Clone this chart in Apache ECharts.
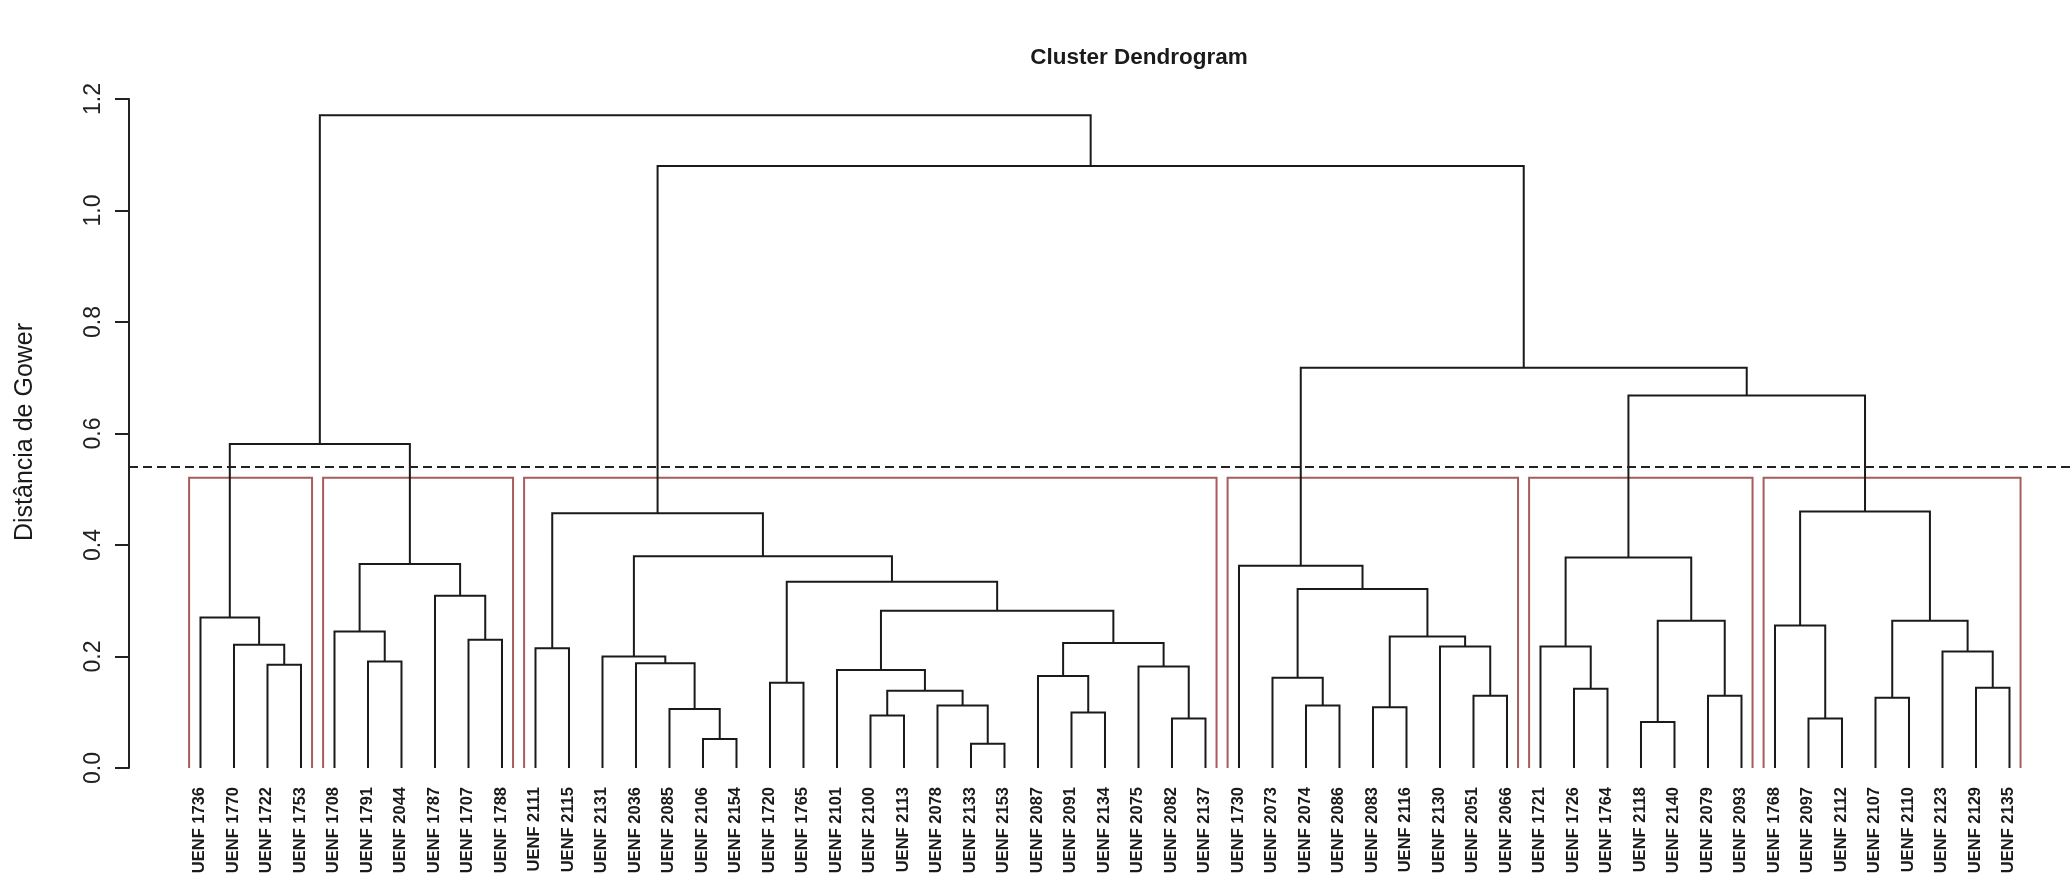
<!DOCTYPE html>
<html><head><meta charset="utf-8">
<script src="https://cdn.jsdelivr.net/npm/echarts@6/dist/echarts.min.js"></script>
<style>html,body{margin:0;padding:0;background:#fff}#c{width:2072px;height:880px}</style>
</head><body><div id="c"></div>
<script>
// ---- Data (leaf order as drawn, left to right) ----
const leafLabels = [
  'UENF 1736','UENF 1770','UENF 1722','UENF 1753',
  'UENF 1708','UENF 1791','UENF 2044','UENF 1787','UENF 1707','UENF 1788',
  'UENF 2111','UENF 2115','UENF 2131','UENF 2036','UENF 2085','UENF 2106','UENF 2154',
  'UENF 1720','UENF 1765','UENF 2101','UENF 2100','UENF 2113','UENF 2078','UENF 2133',
  'UENF 2153','UENF 2087','UENF 2091','UENF 2134','UENF 2075','UENF 2082','UENF 2137',
  'UENF 1730','UENF 2073','UENF 2074','UENF 2086','UENF 2083','UENF 2116','UENF 2130',
  'UENF 2051','UENF 2066',
  'UENF 1721','UENF 1726','UENF 1764','UENF 2118','UENF 2140','UENF 2079','UENF 2093',
  'UENF 1768','UENF 2097','UENF 2112','UENF 2107','UENF 2110','UENF 2123','UENF 2129','UENF 2135'
];
// hclust-style merge table: negative = leaf position (1-based), positive = earlier merge row (1-based)
const mergeLeft  = [-24,-16,-44,-30,-49,-21,-27,-15,-36,-23,-34,-51,-39,-46, 6,-42,-54,-18,-33,-26,
                    -20,-29, -3,-14, -6,-13,-53,-11,-41,-38, -2, 20, -9,  9, -5,-48,  3, 12, -1, 21,
                     -8, 19, 18,-32, 35, 29, 26, 28, 36, 39, 46, 44, 48, 50];
const mergeRight = [-25,-17,-45,-31,-50,-22,-28,  2,-37,  1,-35,-52,-40,-47, 10,-43,-55,-19, 11,  7,
                     15,  4, -4,  8, -7, 24, 17,-12, 16, 13, 23, 22,-10, 30, 25,  5, 14, 27, 31, 32,
                     33, 34, 40, 42, 41, 37, 43, 47, 38, 45, 49, 51, 52, 53];
const mergeHeight = [0.0435,0.052,0.0824,0.089,0.089,0.094,0.0997,0.106,0.109,0.112,
                     0.112,0.126,0.1296,0.1296,0.1385,0.142,0.144,0.153,0.162,0.165,
                     0.176,0.182,0.185,0.188,0.191,0.200,0.209,0.215,0.218,0.218,
                     0.221,0.224,0.230,0.236,0.245,0.2556,0.264,0.264,0.270,0.282,
                     0.309,0.321,0.334,0.3626,0.366,0.3775,0.380,0.457,0.460,0.581,
                     0.668,0.718,1.080,1.171];
const clusterSizes = [4, 6, 21, 9, 7, 8];   // k = 6 groups (rect.hclust)
const cutLine = 0.5405;                      // dashed reference line
const yTicks = [0, 0.2, 0.4, 0.6, 0.8, 1.0, 1.2];

// ---- Build segments through the tree ----
const nodeX = [], nodeH = [];
const cx = c => c < 0 ? -c : nodeX[c - 1];
const ch = c => c < 0 ? 0 : nodeH[c - 1];
const segData = [];
for (let i = 0; i < mergeHeight.length; i++) {
  const l = mergeLeft[i], r = mergeRight[i], h = mergeHeight[i];
  const xl = cx(l), xr = cx(r);
  nodeX.push((xl + xr) / 2); nodeH.push(h);
  segData.push([xl, ch(l), xl, h, xr, h, xr, ch(r)]);
}
const sortedH = mergeHeight.slice().sort((a, b) => b - a);
const k = clusterSizes.length;
const rectTop = (sortedH[k - 2] + sortedH[k - 1]) / 2;
const rectData = [];
let acc = 0;
clusterSizes.forEach(s => { rectData.push([acc + 0.66, acc + s + 0.33, rectTop]); acc += s; });
const leafData = leafLabels.map((name, i) => [i + 1, 0, name]);

const chart = echarts.init(document.getElementById('c'));
const FONT = 'Liberation Sans, Arial, Helvetica, sans-serif';
chart.setOption({
  animation: false,
  backgroundColor: '#ffffff',
  grid: { left: 129, right: 0, top: 99, bottom: 112 },
  xAxis: { type: 'value', min: -1.134, max: 56.866, show: false },
  yAxis: {
    type: 'value', min: 0, max: 1.2, interval: 0.2,
    axisLine: { show: true, onZero: false, lineStyle: { color: '#222', width: 2 } },
    axisTick: { show: true, inside: false, length: 14, lineStyle: { color: '#222', width: 2 } },
    splitLine: { show: false },
    axisLabel: {
      rotate: 90, fontSize: 23, color: '#222', fontFamily: FONT, margin: 24,
      formatter: v => yTicks.includes(Math.round(v * 10) / 10) ? v.toFixed(1) : ''
    }
  },
  graphic: [
    { type: 'text', x: 1139, y: 58, style: { text: 'Cluster Dendrogram', font: 'bold 22.5px ' + FONT, fill: '#1a1a1a', align: 'center', verticalAlign: 'middle' } },
    { type: 'text', x: 25, y: 432, rotation: Math.PI / 2, style: { text: 'Distância de Gower', font: '25px ' + FONT, fill: '#1a1a1a', align: 'center', verticalAlign: 'middle' } }
  ],
  series: [
    {
      type: 'custom', name: 'groups', clip: false, silent: true,
      data: rectData,
      renderItem: (params, api) => {
        const x1 = api.value(0), x2 = api.value(1), top = api.value(2);
        const p1 = api.coord([x1, 0]), p2 = api.coord([x1, top]), p3 = api.coord([x2, top]), p4 = api.coord([x2, 0]);
        return { type: 'polyline', shape: { points: [p1, p2, p3, p4] },
                 style: { stroke: '#a85c5c', lineWidth: 2, fill: null } };
      },
      markLine: {
        silent: true, symbol: 'none', animation: false,
        label: { show: false },
        lineStyle: { color: '#222', width: 2, type: [9, 5] },
        data: [{ yAxis: cutLine }]
      }
    },
    {
      type: 'custom', name: 'tree', clip: false, silent: true,
      data: segData,
      renderItem: (params, api) => {
        const pts = [];
        for (let j = 0; j < 4; j++) pts.push(api.coord([api.value(2 * j), api.value(2 * j + 1)]));
        return { type: 'polyline', shape: { points: pts },
                 style: { stroke: '#1a1a1a', lineWidth: 2, fill: null } };
      }
    },
    {
      type: 'custom', name: 'leaves', clip: false, silent: true,
      data: leafData,
      renderItem: (params, api) => {
        const p = api.coord([api.value(0), 0]);
        return { type: 'text', x: p[0] - 1, y: p[1] + 19, rotation: Math.PI / 2, scaleY: 1.05,
                 style: { text: leafLabels[params.dataIndex], font: 'bold 16.5px ' + FONT,
                          fill: '#1a1a1a', align: 'right', verticalAlign: 'middle' } };
      }
    }
  ]
});
</script>
</body></html>
